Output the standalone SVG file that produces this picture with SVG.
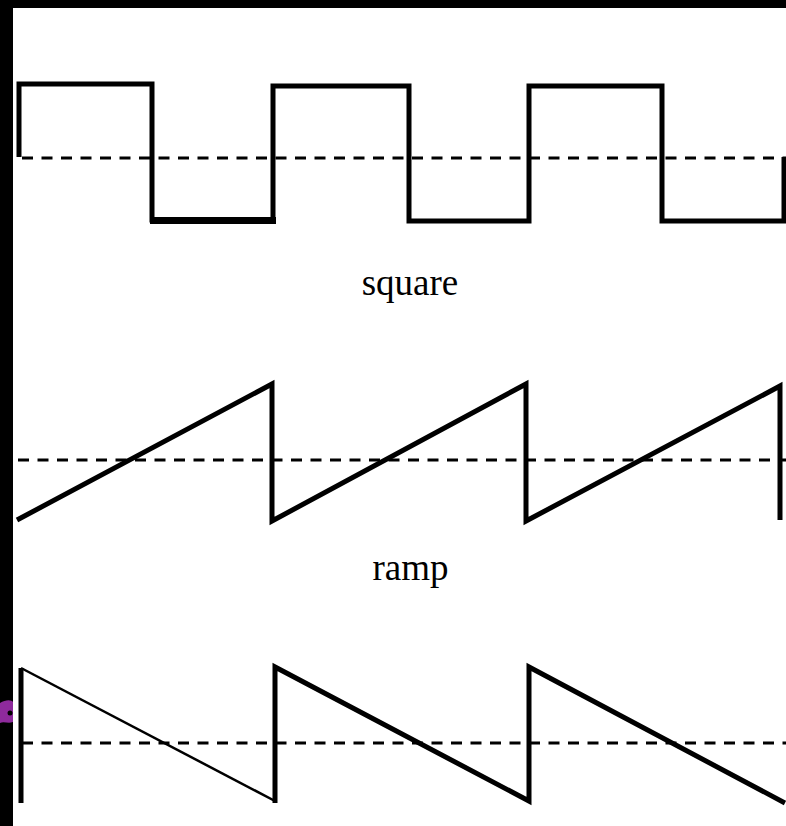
<svg xmlns="http://www.w3.org/2000/svg" width="786" height="826" viewBox="0 0 786 826">
  <style>
    .wave { fill: none; stroke: #000; stroke-width: 5; stroke-linejoin: miter; stroke-linecap: butt; }
    .thin { fill: none; stroke: #000; stroke-width: 2.5; }
    .axis { fill: none; stroke: #000; stroke-width: 3; stroke-dasharray: 11 8.5; }
    .label { font-family: "Liberation Serif", "Times New Roman", serif; font-size: 37px; fill: #000; text-anchor: middle; }
  </style>
  <rect x="0" y="0" width="786" height="826" fill="#000"/>
  <rect x="13" y="8" width="773" height="818" fill="#fff"/>
  <path d="M0,703 C6,699 12,700 13,702 L13,722 C8,724 4,721 0,723 Z" fill="#8e2a9c"/>
  <circle cx="10" cy="713" r="2.5" fill="#000"/>

  <g id="connectors">
    <line class="axis" x1="22" y1="158" x2="786" y2="158"/>
    <line class="axis" x1="18" y1="460" x2="786" y2="460"/>
    <line class="axis" x1="22" y1="743" x2="786" y2="743"/>
  </g>

  <g id="square-wave">
    <path class="wave" d="M19,157 V84 H152 V220 H273 V86 H409 V221 H529 V86 H662 V221 H784 V157"/>
    <line x1="150" y1="220.5" x2="276" y2="220.5" stroke="#000" stroke-width="7"/>
  </g>

  <g id="ramp-wave">
    <path class="wave" d="M17,520 L272,384 V521 L526,384 V521 L780,386 V520"/>
  </g>

  <g id="sawtooth-wave">
    <path class="wave" d="M21,803 V668"/>
    <path class="thin" d="M21,668 L275,801"/>
    <path class="wave" d="M275,803 V667 L529,801 V667 L785,803"/>
  </g>

  <g id="label-square">
    <text class="label" x="410" y="295">square</text>
  </g>
  <g id="label-ramp">
    <text class="label" x="410.5" y="580">ramp</text>
  </g>
</svg>
